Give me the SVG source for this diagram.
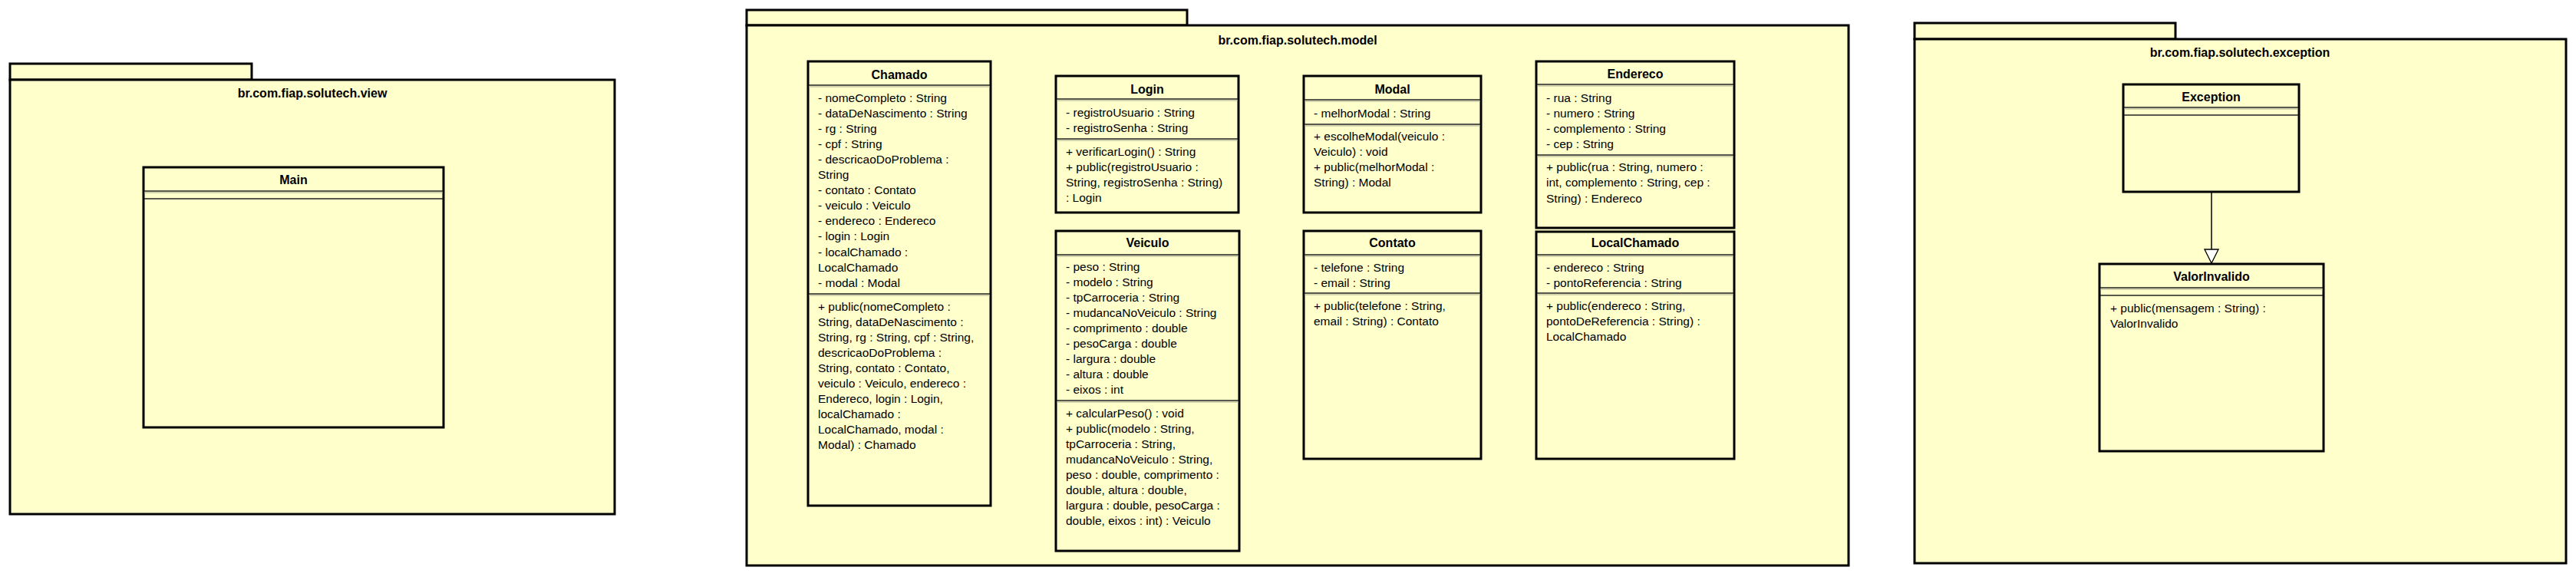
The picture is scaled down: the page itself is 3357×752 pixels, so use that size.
<svg xmlns="http://www.w3.org/2000/svg" width="3357" height="752" viewBox="0 0 3357 752">
<style>
.pkg{fill:#FFFFCC;stroke:#000;stroke-width:3}
.cls{fill:#FFFFCC;stroke:#000;stroke-width:3}
.sep{stroke:#222;stroke-width:1.5;fill:none}
.sep2{stroke:#a8a890;stroke-width:1;fill:none}
.t{font-family:"Liberation Sans",Arial,sans-serif;font-size:15.5px;fill:#000}
.h{font-family:"Liberation Sans",Arial,sans-serif;font-size:16px;font-weight:bold;fill:#000;text-anchor:middle}
.conn{stroke:#000;stroke-width:1.5;fill:none}
</style>
<defs>
<marker id="gen" markerUnits="userSpaceOnUse" markerWidth="22" markerHeight="20" viewBox="0 0 22 20" refX="20" refY="10" orient="auto">
<path d="M2,1 L20,10 L2,19 Z" fill="#fff" stroke="#000" stroke-width="1.3"/>
</marker>
</defs>
<rect width="3357" height="752" fill="#fff"/>

<g id="pkg-view">
<rect class="pkg" x="13" y="83" width="315" height="21"/>
<rect class="pkg" x="13" y="104" width="788" height="566"/>
<text class="h" x="407" y="127">br.com.fiap.solutech.view</text>
</g>

<g id="pkg-model">
<rect class="pkg" x="973" y="13" width="574" height="20"/>
<rect class="pkg" x="973" y="33" width="1436" height="704"/>
<text class="h" x="1691" y="58">br.com.fiap.solutech.model</text>
</g>

<g id="pkg-exception">
<rect class="pkg" x="2495" y="30" width="340" height="21"/>
<rect class="pkg" x="2495" y="51" width="849" height="683"/>
<text class="h" x="2919" y="74">br.com.fiap.solutech.exception</text>
</g>

<g id="Main">
<rect class="cls" x="187" y="218" width="391" height="339"/>
<text class="h" x="382.5" y="240">Main</text>
<line class="sep" x1="188" y1="249" x2="577" y2="249"/>
<line class="sep2" x1="188" y1="251" x2="577" y2="251"/>
<line class="sep" x1="188" y1="259" x2="577" y2="259"/>
</g>

<g id="Chamado">
<rect class="cls" x="1053" y="80" width="238" height="579"/>
<text class="h" x="1172" y="103">Chamado</text>
<line class="sep" x1="1054" y1="111" x2="1290" y2="111"/>
<line class="sep2" x1="1054" y1="113" x2="1290" y2="113"/>
<text class="t"><tspan x="1066" y="132.5">- nomeCompleto : String</tspan><tspan x="1066" y="152.6">- dataDeNascimento : String</tspan><tspan x="1066" y="172.7">- rg : String</tspan><tspan x="1066" y="192.8">- cpf : String</tspan><tspan x="1066" y="212.9">- descricaoDoProblema :</tspan><tspan x="1066" y="233">String</tspan><tspan x="1066" y="253.1">- contato : Contato</tspan><tspan x="1066" y="273.2">- veiculo : Veiculo</tspan><tspan x="1066" y="293.3">- endereco : Endereco</tspan><tspan x="1066" y="313.4">- login : Login</tspan><tspan x="1066" y="333.5">- localChamado :</tspan><tspan x="1066" y="353.6">LocalChamado</tspan><tspan x="1066" y="373.7">- modal : Modal</tspan></text>
<line class="sep" x1="1054" y1="383" x2="1290" y2="383"/>
<line class="sep2" x1="1054" y1="385" x2="1290" y2="385"/>
<text class="t"><tspan x="1066" y="404.5">+ public(nomeCompleto :</tspan><tspan x="1066" y="424.5">String, dataDeNascimento :</tspan><tspan x="1066" y="444.5">String, rg : String, cpf : String,</tspan><tspan x="1066" y="464.5">descricaoDoProblema :</tspan><tspan x="1066" y="484.5">String, contato : Contato,</tspan><tspan x="1066" y="504.5">veiculo : Veiculo, endereco :</tspan><tspan x="1066" y="524.5">Endereco, login : Login,</tspan><tspan x="1066" y="544.5">localChamado :</tspan><tspan x="1066" y="564.5">LocalChamado, modal :</tspan><tspan x="1066" y="584.5">Modal) : Chamado</tspan></text>
</g>

<g id="Login">
<rect class="cls" x="1376" y="99" width="238" height="178"/>
<text class="h" x="1495" y="122">Login</text>
<line class="sep" x1="1377" y1="129" x2="1613" y2="129"/>
<line class="sep2" x1="1377" y1="131" x2="1613" y2="131"/>
<text class="t"><tspan x="1389" y="151.5">- registroUsuario : String</tspan><tspan x="1389" y="171.5">- registroSenha : String</tspan></text>
<line class="sep" x1="1377" y1="181" x2="1613" y2="181"/>
<line class="sep2" x1="1377" y1="183" x2="1613" y2="183"/>
<text class="t"><tspan x="1389" y="202.5">+ verificarLogin() : String</tspan><tspan x="1389" y="222.5">+ public(registroUsuario :</tspan><tspan x="1389" y="242.5">String, registroSenha : String)</tspan><tspan x="1389" y="262.5">: Login</tspan></text>
</g>

<g id="Veiculo">
<rect class="cls" x="1376" y="301" width="239" height="417"/>
<text class="h" x="1495.5" y="322">Veiculo</text>
<line class="sep" x1="1377" y1="332" x2="1614" y2="332"/>
<line class="sep2" x1="1377" y1="334" x2="1614" y2="334"/>
<text class="t"><tspan x="1389" y="352.5">- peso : String</tspan><tspan x="1389" y="372.6">- modelo : String</tspan><tspan x="1389" y="392.7">- tpCarroceria : String</tspan><tspan x="1389" y="412.8">- mudancaNoVeiculo : String</tspan><tspan x="1389" y="432.9">- comprimento : double</tspan><tspan x="1389" y="453">- pesoCarga : double</tspan><tspan x="1389" y="473.1">- largura : double</tspan><tspan x="1389" y="493.2">- altura : double</tspan><tspan x="1389" y="513.3">- eixos : int</tspan></text>
<line class="sep" x1="1377" y1="522" x2="1614" y2="522"/>
<line class="sep2" x1="1377" y1="524" x2="1614" y2="524"/>
<text class="t"><tspan x="1389" y="543.5">+ calcularPeso() : void</tspan><tspan x="1389" y="563.5">+ public(modelo : String,</tspan><tspan x="1389" y="583.5">tpCarroceria : String,</tspan><tspan x="1389" y="603.5">mudancaNoVeiculo : String,</tspan><tspan x="1389" y="623.5">peso : double, comprimento :</tspan><tspan x="1389" y="643.5">double, altura : double,</tspan><tspan x="1389" y="663.5">largura : double, pesoCarga :</tspan><tspan x="1389" y="683.5">double, eixos : int) : Veiculo</tspan></text>
</g>

<g id="Modal">
<rect class="cls" x="1699" y="99" width="231" height="178"/>
<text class="h" x="1814.5" y="122">Modal</text>
<line class="sep" x1="1700" y1="130" x2="1929" y2="130"/>
<line class="sep2" x1="1700" y1="132" x2="1929" y2="132"/>
<text class="t"><tspan x="1712" y="152.5">- melhorModal : String</tspan></text>
<line class="sep" x1="1700" y1="162" x2="1929" y2="162"/>
<line class="sep2" x1="1700" y1="164" x2="1929" y2="164"/>
<text class="t"><tspan x="1712" y="182.5">+ escolheModal(veiculo :</tspan><tspan x="1712" y="202.5">Veiculo) : void</tspan><tspan x="1712" y="222.5">+ public(melhorModal :</tspan><tspan x="1712" y="242.5">String) : Modal</tspan></text>
</g>

<g id="Contato">
<rect class="cls" x="1699" y="301" width="231" height="297"/>
<text class="h" x="1814.5" y="322">Contato</text>
<line class="sep" x1="1700" y1="332" x2="1929" y2="332"/>
<line class="sep2" x1="1700" y1="334" x2="1929" y2="334"/>
<text class="t"><tspan x="1712" y="353.5">- telefone : String</tspan><tspan x="1712" y="373.5">- email : String</tspan></text>
<line class="sep" x1="1700" y1="382" x2="1929" y2="382"/>
<line class="sep2" x1="1700" y1="384" x2="1929" y2="384"/>
<text class="t"><tspan x="1712" y="403.5">+ public(telefone : String,</tspan><tspan x="1712" y="423.5">email : String) : Contato</tspan></text>
</g>

<g id="Endereco">
<rect class="cls" x="2002" y="80" width="258" height="217"/>
<text class="h" x="2131" y="102">Endereco</text>
<line class="sep" x1="2003" y1="110" x2="2259" y2="110"/>
<line class="sep2" x1="2003" y1="112" x2="2259" y2="112"/>
<text class="t"><tspan x="2015" y="132.5">- rua : String</tspan><tspan x="2015" y="152.5">- numero : String</tspan><tspan x="2015" y="172.5">- complemento : String</tspan><tspan x="2015" y="192.5">- cep : String</tspan></text>
<line class="sep" x1="2003" y1="202" x2="2259" y2="202"/>
<line class="sep2" x1="2003" y1="204" x2="2259" y2="204"/>
<text class="t"><tspan x="2015" y="222.5">+ public(rua : String, numero :</tspan><tspan x="2015" y="243">int, complemento : String, cep :</tspan><tspan x="2015" y="263.5">String) : Endereco</tspan></text>
</g>

<g id="LocalChamado">
<rect class="cls" x="2002" y="302" width="258" height="296"/>
<text class="h" x="2131" y="322">LocalChamado</text>
<line class="sep" x1="2003" y1="332" x2="2259" y2="332"/>
<line class="sep2" x1="2003" y1="334" x2="2259" y2="334"/>
<text class="t"><tspan x="2015" y="353.5">- endereco : String</tspan><tspan x="2015" y="373.5">- pontoReferencia : String</tspan></text>
<line class="sep" x1="2003" y1="382" x2="2259" y2="382"/>
<line class="sep2" x1="2003" y1="384" x2="2259" y2="384"/>
<text class="t"><tspan x="2015" y="403.5">+ public(endereco : String,</tspan><tspan x="2015" y="423.5">pontoDeReferencia : String) :</tspan><tspan x="2015" y="443.5">LocalChamado</tspan></text>
</g>

<g id="Exception">
<rect class="cls" x="2767" y="110" width="229" height="140"/>
<text class="h" x="2881.5" y="132">Exception</text>
<line class="sep" x1="2768" y1="140" x2="2995" y2="140"/>
<line class="sep2" x1="2768" y1="142" x2="2995" y2="142"/>
<line class="sep" x1="2768" y1="150" x2="2995" y2="150"/>
</g>

<g id="ValorInvalido">
<rect class="cls" x="2736" y="344" width="292" height="244"/>
<text class="h" x="2882" y="366">ValorInvalido</text>
<line class="sep" x1="2737" y1="375" x2="3027" y2="375"/>
<line class="sep2" x1="2737" y1="377" x2="3027" y2="377"/>
<line class="sep" x1="2737" y1="385" x2="3027" y2="385"/>
<text class="t"><tspan x="2750" y="406.5">+ public(mensagem : String) :</tspan><tspan x="2750" y="426.5">ValorInvalido</tspan></text>
</g>

<g id="connectors">
<line class="conn" x1="2882" y1="251" x2="2882" y2="343" marker-end="url(#gen)"/>
</g>
</svg>
